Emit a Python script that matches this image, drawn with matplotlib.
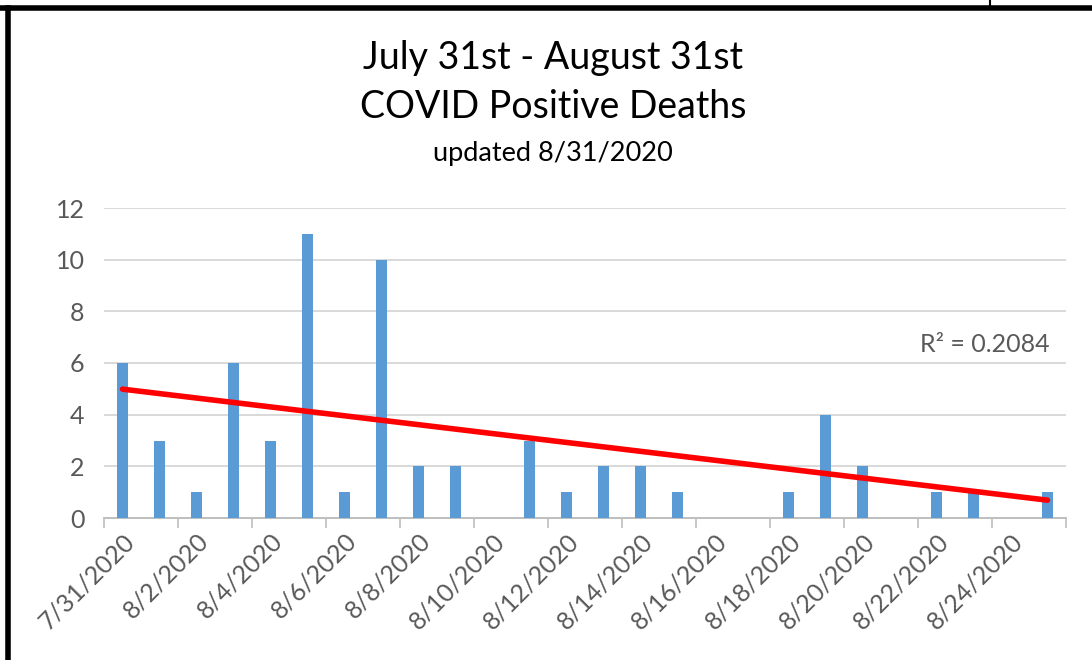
import matplotlib
matplotlib.use("Agg")
import matplotlib.pyplot as plt
from matplotlib.lines import Line2D
import numpy as np

# daily counts, 7/31 .. 8/25 (days with no report are left out)
days = ["7/31/2020", "8/1/2020", "8/2/2020", "8/3/2020", "8/4/2020", "8/5/2020",
        "8/6/2020", "8/7/2020", "8/8/2020", "8/9/2020", "8/10/2020", "8/11/2020",
        "8/12/2020", "8/13/2020", "8/14/2020", "8/15/2020", "8/16/2020", "8/17/2020",
        "8/18/2020", "8/19/2020", "8/20/2020", "8/21/2020", "8/22/2020", "8/23/2020",
        "8/24/2020", "8/25/2020"]
reported_idx = [0, 1, 2, 3, 4, 5, 6, 7, 8, 9, 11, 12, 13, 14, 15, 18, 19, 20, 22, 23, 25]
deaths = [6, 3, 1, 6, 3, 11, 1, 10, 2, 2, 3, 1, 2, 2, 1, 1, 4, 2, 1, 1, 1]
r_squared = 0.2084  # as printed on the chart

plt.rcParams['font.family'] = ['Lato', 'DejaVu Sans']
grey = '#595959'

fig = plt.figure(figsize=(10.92, 6.6), dpi=100)
ax = fig.add_axes([104 / 1092, 1 - 518 / 660, (1066 - 104) / 1092, (518 - 208) / 660])

ax.bar(reported_idx, deaths, width=0.29, color='#5B9BD5', zorder=3)

# linear trendline
x = np.array(reported_idx, dtype=float)
y = np.array(deaths, dtype=float)
slope, icept = np.polyfit(x, y, 1)
xt = np.array([0, len(days) - 1])
ax.plot(xt, slope * xt + icept, color='#FF0000', linewidth=4,
        solid_capstyle='round', zorder=4)
ax.text(25.05, 6.7, f'R² = {r_squared:.4f}', ha='right', va='center',
        fontsize=18, color=grey)

ax.set_xlim(-0.5, len(days) - 0.5)
ax.set_ylim(0, 12)
ax.set_yticks(range(0, 13, 2))
ax.grid(True, axis='y', color='#D9D9D9', linewidth=1.4, zorder=0)

label_pos = list(range(0, len(days), 2))
ax.set_xticks(label_pos)
ax.set_xticklabels([days[i] for i in label_pos], rotation=45, ha='right',
                   va='top', rotation_mode='anchor', fontsize=18, color=grey)
ax.tick_params(axis='x', length=0, pad=8)
ax.set_xticks(np.arange(-0.5, len(days), 2), minor=True)
ax.tick_params(axis='x', which='minor', length=7, width=1.2, color='#BFBFBF')
ax.tick_params(axis='y', length=0, labelsize=18, labelcolor=grey, pad=14)

for side in ['top', 'right', 'left']:
    ax.spines[side].set_visible(False)
ax.spines['bottom'].set_color('#BFBFBF')
ax.spines['bottom'].set_linewidth(1.4)

fig.text(553 / 1092, 1 - 58 / 660, 'July 31st - August 31st', ha='center',
         va='center', fontsize=27, color='black')
fig.text(553 / 1092, 1 - 107 / 660, 'COVID Positive Deaths', ha='center',
         va='center', fontsize=27, color='black')
fig.text(553 / 1092, 1 - 153 / 660, 'updated 8/31/2020', ha='center',
         va='center', fontsize=19.5, color='black')

# black frame at top and left edge
fig.add_artist(Line2D([0, 1], [1 - 7.5 / 660] * 2, color='black', linewidth=4))
fig.add_artist(Line2D([7.5 / 1092] * 2, [0, 1 - 7.5 / 660], color='black', linewidth=4))
fig.add_artist(Line2D([990 / 1092] * 2, [1, 1 - 7 / 660], color='black', linewidth=1.5))

fig.savefig('out.png', dpi=100)
